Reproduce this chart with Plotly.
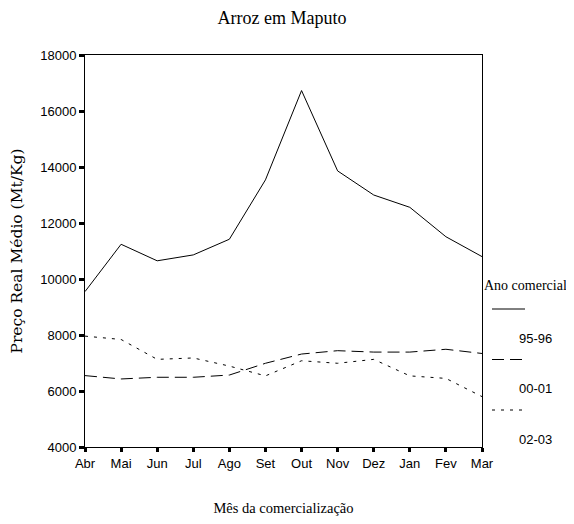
import plotly.graph_objects as go

# months of the marketing year
meses = ["Abr", "Mai", "Jun", "Jul", "Ago", "Set", "Out", "Nov", "Dez", "Jan", "Fev", "Mar"]

# mean real price (Mt/Kg) per marketing year
preco_95_96 = [9550, 11240, 10650, 10860, 11420, 13540, 16730, 13860, 13000, 12560, 11510, 10800]
preco_00_01 = [6550, 6430, 6490, 6490, 6570, 6990, 7320, 7440, 7390, 7390, 7490, 7340]
preco_02_03 = [7960, 7840, 7130, 7180, 6890, 6540, 7080, 6990, 7130, 6540, 6450, 5800]

anos = ["95-96", "00-01", "02-03"]
y_ticks = [4000, 6000, 8000, 10000, 12000, 14000, 16000, 18000]

series = [preco_95_96, preco_00_01, preco_02_03]
dashes = ["solid", "12px,6px", "3px,6px"]

SERIF = "Liberation Serif"
SLAB = "DejaVu Serif"
SANS = "Liberation Sans"

fig = go.Figure()

for nome, vals, dash in zip(anos, series, dashes):
    fig.add_trace(go.Scatter(x=list(range(len(meses))), y=vals,
                             mode="lines",
                             line=dict(color="black", width=1, dash=dash),
                             name=nome, showlegend=False))

# page body adds 8px on each side, so figure is 558x508 and plot box sits at 77..474 / 47..439
fig.update_layout(
    width=558, height=508,
    margin=dict(l=77, r=84, t=47, b=69),
    plot_bgcolor="white", paper_bgcolor="white",
    font=dict(family=SANS, size=13, color="black"),
    title=dict(text="Arroz em Maputo", x=0.491, xanchor="center", y=0.98, yanchor="middle",
               font=dict(family=SERIF, size=18)),
)

fig.update_xaxes(range=[0, 11], tickmode="array", tickvals=list(range(len(meses))), ticktext=meses,
                 showline=True, linecolor="black", linewidth=1, mirror=True,
                 ticks="outside", ticklen=4, tickwidth=3, tickcolor="black",
                 showgrid=False, zeroline=False, automargin=False,
                 title=dict(text="Mês da comercialização", standoff=35,
                            font=dict(family=SERIF, size=14.5)))
fig.update_yaxes(range=[4000, 18000], tickvals=y_ticks, tickformat="d",
                 showline=True, linecolor="black", linewidth=1, mirror=True,
                 ticks="outside", ticklen=5, tickwidth=3, tickcolor="black",
                 showgrid=False, zeroline=False, automargin=False,
                 title=dict(text="Preço Real Médio (Mt/Kg)", standoff=18,
                            font=dict(family=SLAB, size=15.5)))

# legend drawn by hand: line sample above each label (screen px -> paper)
def px_x(p):
    return (p - 85) / 397.0

def px_y(p):
    return (447 - p) / 392.0

fig.add_annotation(xref="paper", yref="paper", x=px_x(525), y=px_y(285), text="Ano comercial",
                   showarrow=False, xanchor="center", yanchor="middle",
                   font=dict(family=SERIF, size=14))
for i, (nome, dash) in enumerate(zip(anos, dashes)):
    ly = 309 + i * 50.5
    fig.add_shape(type="line", xref="paper", yref="paper",
                  x0=px_x(492), x1=px_x(525), y0=px_y(ly), y1=px_y(ly),
                  line=dict(color="black", width=1, dash=dash))
    fig.add_annotation(xref="paper", yref="paper", x=px_x(535), y=px_y(ly + 29), text=nome,
                       showarrow=False, xanchor="center", yanchor="middle",
                       font=dict(family=SANS, size=13))

fig.write_html("out.html")
